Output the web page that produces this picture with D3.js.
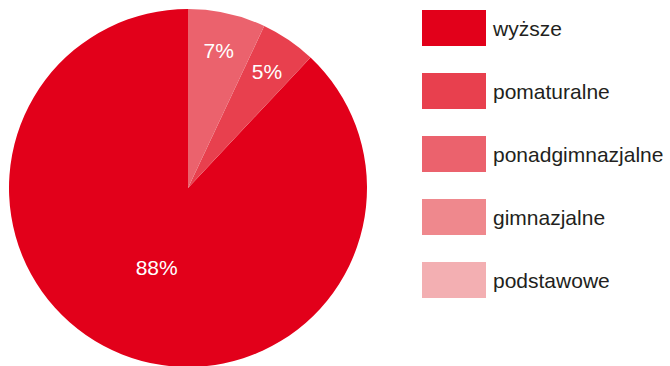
<!DOCTYPE html>
<html>
<head>
<meta charset="utf-8">
<script src="https://cdn.jsdelivr.net/npm/d3@7"></script>
<style>
  html, body { margin: 0; padding: 0; background: #fff; }
  svg { display: block; }
  text { font-family: "Liberation Sans", Arial, sans-serif; }
</style>
</head>
<body>
<svg id="chart" width="670" height="366"></svg>
<script>
// Education level shares
const categories = ["wyższe", "pomaturalne", "ponadgimnazjalne", "gimnazjalne", "podstawowe"];
const shares = [88, 5, 7, 0, 0];
const colors = ["#e2001a", "#e8404e", "#eb626d", "#ef888d", "#f3afb2"];

const W = 670, H = 366;
const cx = 188, cy = 188, R = 179;

const svg = d3.select("#chart");

const data = categories.map((c, i) => ({ name: c, value: shares[i], color: colors[i] }));

// Slices run counter-clockwise from 12 o'clock
const pie = d3.pie().sort(null).value(d => d.value)
  .startAngle(0).endAngle(-2 * Math.PI);
const arcs = pie(data);

const arc = d3.arc().innerRadius(0).outerRadius(R);

const g = svg.append("g").attr("transform", `translate(${cx},${cy})`);

g.selectAll("path.slice")
  .data(arcs.filter(d => d.value > 0))
  .join("path")
  .attr("class", "slice")
  .attr("d", arc)
  .attr("fill", d => d.data.color);

// Percentage labels: large slice labelled closer to centre
const total = d3.sum(shares);
g.selectAll("text.pct")
  .data(arcs.filter(d => d.value > 0))
  .join("text")
  .attr("class", "pct")
  .attr("transform", d => {
    const frac = d.value / total;
    const r = frac > 0.5 ? R * 0.475 : R * 0.785;
    const a = (d.startAngle + d.endAngle) / 2;
    return `translate(${Math.sin(a) * r},${-Math.cos(a) * r})`;
  })
  .attr("text-anchor", "middle")
  .attr("dy", "0.36em")
  .attr("fill", "#ffffff")
  .attr("font-size", 21)
  .text(d => Math.round(d.value / total * 100) + "%");

// Legend
const legendY = d3.scalePoint().domain(categories).range([10, 262]);
const legend = svg.append("g");
const items = legend.selectAll("g.item")
  .data(data)
  .join("g")
  .attr("class", "item")
  .attr("transform", d => `translate(422,${legendY(d.name)})`);

items.append("rect")
  .attr("width", 64)
  .attr("height", 36)
  .attr("fill", d => d.color);

items.append("text")
  .attr("x", 71)
  .attr("y", 26)
  .attr("font-size", 21)
  .attr("fill", "#231f20")
  .text(d => d.name);
</script>
</body>
</html>
